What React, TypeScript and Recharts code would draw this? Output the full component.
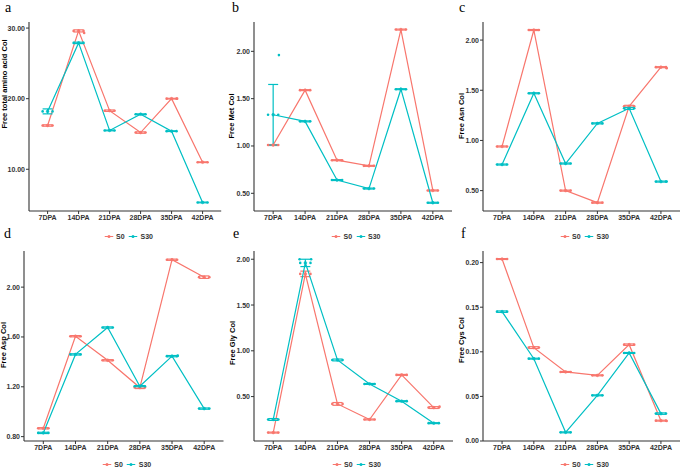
import React from 'react';
import { ComposedChart, Line, XAxis, YAxis, ErrorBar, Scatter } from 'recharts';

// ---------- data ----------
const categories = ['7DPA', '14DPA', '21DPA', '28DPA', '35DPA', '42DPA'];
const seriesNames = ['S0', 'S30'];

// a: Free total amino acid
const totalS0 = [16.2, 29.6, 18.3, 15.2, 20.0, 11.0];
const totalS30 = [18.2, 27.9, 15.5, 17.8, 15.4, 5.3];
const totalS0Err = [0.1, 0.15, 0.1, 0.1, 0.05, 0.05];
const totalS30Err = [0.35, 0.1, 0.05, 0.05, 0.05, 0.05];
const totalExtra = [[0, 1, 29.3], [0, 4, 20.0]];
const totalTicks = [10, 20, 30];

// b: Free Met
const metS0 = [1.01, 1.59, 0.85, 0.79, 2.23, 0.53];
const metS30 = [1.33, 1.26, 0.64, 0.55, 1.6, 0.4];
const metS0Err = [0.005, 0.005, 0.005, 0.005, 0.005, 0.005];
const metS30Err = [0.32, 0.005, 0.005, 0.005, 0.005, 0.005];
const metExtra = [[1, 0, 1.96]];
const metTicks = [0.5, 1.0, 1.5, 2.0];

// c: Free Asn
const asnS0 = [0.94, 2.1, 0.5, 0.38, 1.34, 1.73];
const asnS30 = [0.76, 1.47, 0.77, 1.17, 1.32, 0.59];
const asnS0Err = [0.005, 0.005, 0.005, 0.005, 0.01, 0.005];
const asnS30Err = [0.005, 0.005, 0.005, 0.005, 0.01, 0.005];
const asnExtra = [[0, 5, 1.72], [1, 5, 0.59]];
const asnTicks = [0.5, 1.0, 1.5, 2.0];

// d: Free Asp
const aspS0 = [0.867, 1.606, 1.413, 1.194, 2.22, 2.08];
const aspS30 = [0.83, 1.46, 1.676, 1.205, 1.446, 1.025];
const aspS0Err = [0.005, 0.005, 0.005, 0.008, 0.005, 0.01];
const aspS30Err = [0.005, 0.005, 0.005, 0.005, 0.005, 0.005];
const aspExtra = [[1, 4, 1.45]];
const aspTicks = [0.8, 1.2, 1.6, 2.0];

// e: Free Gly
const glyS0 = [0.107, 1.84, 0.42, 0.25, 0.737, 0.38];
const glyS30 = [0.25, 1.96, 0.9, 0.638, 0.45, 0.21];
const glyS0Err = [0.005, 0.03, 0.015, 0.005, 0.005, 0.01];
const glyS30Err = [0.01, 0.04, 0.01, 0.005, 0.005, 0.005];
const glyExtra = [[1, 1, 2.0], [1, 1, 2.0], [0, 5, 0.39]];
const glyTicks = [0.5, 1.0, 1.5, 2.0];

// f: Free Cys
const cysS0 = [0.204, 0.1047, 0.0774, 0.0736, 0.108, 0.0228];
const cysS30 = [0.145, 0.0923, 0.0097, 0.0512, 0.0987, 0.0307];
const cysS0Err = [0.0005, 0.001, 0.0005, 0.0005, 0.0008, 0.0005];
const cysS30Err = [0.0008, 0.0005, 0.0005, 0.0005, 0.0005, 0.0008];
const cysExtra = [[0, 5, 0.0225]];
const cysTicks = [0.0, 0.05, 0.1, 0.15, 0.2];

// ---------- styles / layout ----------
const RED = '#F8766D';
const CYAN = '#00BFC4';
const INK = '#333333';
const FONT = '"Liberation Sans", Arial, Helvetica, sans-serif';
const SERIF = '"Liberation Serif", "Times New Roman", serif';
const JITTER = [-0.16, 0.16];
const EXTRA_OFFSETS = [0.18, -0.18];

const panels = [
  { label: 'a', title: 'Free total amino acid Col', s0: totalS0, s30: totalS30, s0e: totalS0Err, s30e: totalS30Err, extra: totalExtra, ticks: totalTicks, domain: [4.09, 30.86], rect: [29.4, 22, 221.6, 211], titleX: 5, titleY: 84, labelX: 5, labelTop: 1 },
  { label: 'b', title: 'Free Met Col', s0: metS0, s30: metS30, s0e: metS0Err, s30e: metS30Err, extra: metExtra, ticks: metTicks, domain: [0.313, 2.31], rect: [254, 22, 452, 211], titleX: 232, titleY: 116, labelX: 232, labelTop: 1 },
  { label: 'c', title: 'Free Asn Col', s0: asnS0, s30: asnS30, s0e: asnS0Err, s30e: asnS30Err, extra: asnExtra, ticks: asnTicks, domain: [0.297, 2.18], rect: [483, 22, 680, 211], titleX: 461.5, titleY: 116, labelX: 459, labelTop: 1 },
  { label: 'd', title: 'Free Asp Col', s0: aspS0, s30: aspS30, s0e: aspS0Err, s30e: aspS30Err, extra: aspExtra, ticks: aspTicks, domain: [0.765, 2.29], rect: [24, 250.7, 223.5, 440.7], titleX: 3.5, titleY: 345, labelX: 4, labelTop: 227 },
  { label: 'e', title: 'Free Gly Col', s0: glyS0, s30: glyS30, s0e: glyS0Err, s30e: glyS30Err, extra: glyExtra, ticks: glyTicks, domain: [0.015, 2.09], rect: [254, 250.7, 453, 440.7], titleX: 232.5, titleY: 343, labelX: 233, labelTop: 227 },
  { label: 'f', title: 'Free Cys Col', s0: cysS0, s30: cysS30, s0e: cysS0Err, s30e: cysS30Err, extra: cysExtra, ticks: cysTicks, domain: [0, 0.213], rect: [483, 250.7, 680, 440.7], titleX: 462, titleY: 340, labelX: 461, labelTop: 227 },
];

const dotShape = (color: string) => (props: any) => (
  <circle cx={props.cx} cy={props.cy} r={1.3} fill={color} />
);

function Panel({ p }: { p: any }) {
  const YW = 30, MT = 4, MR = 4, XH = 20;
  const [x0, y0, x1, y1] = p.rect;
  const w = x1 - x0 + YW + MR;
  const h = y1 - y0 + MT + XH;
  const data = categories.map((c, i) => ({
    x: i + 1, name: c, s0: p.s0[i], s30: p.s30[i], s0e: p.s0e[i], s30e: p.s30e[i],
  }));
  const dots0: any[] = [];
  const dots1: any[] = [];
  categories.forEach((c, i) => {
    JITTER.forEach((o) => {
      dots0.push({ x: i + 1 + o, y: p.s0[i] });
      dots1.push({ x: i + 1 + o, y: p.s30[i] });
    });
  });
  const counts: Record<string, number> = {};
  p.extra.forEach(([s, i, v]: number[]) => {
    const k = s + '-' + i;
    const n = counts[k] || 0;
    counts[k] = n + 1;
    (s === 0 ? dots0 : dots1).push({ x: i + 1 + EXTRA_OFFSETS[n % 2], y: v });
  });
  const tickStyle = { fontSize: 7, fontWeight: 700, fill: INK, fontFamily: FONT };
  return (
    <div style={{ position: 'absolute', left: x0 - YW, top: y0 - MT }}>
      <ComposedChart width={w} height={h} data={data} margin={{ top: MT, right: MR, bottom: 0, left: 0 }}>
        <XAxis
          dataKey="x" type="number" domain={[0.4, 6.6]} ticks={[1, 2, 3, 4, 5, 6]}
          tickFormatter={(v: number) => categories[v - 1]} height={XH} allowDataOverflow
          interval={0} tickSize={3} tickMargin={1}
          axisLine={{ stroke: INK, strokeWidth: 1.1 }} tickLine={{ stroke: INK }} tick={tickStyle}
        />
        <YAxis
          type="number" domain={p.domain} ticks={p.ticks} allowDataOverflow width={YW}
          tickFormatter={(v: number) => v.toFixed(2)} tickSize={3} tickMargin={1}
          axisLine={{ stroke: INK, strokeWidth: 1.1 }} tickLine={{ stroke: INK }} tick={tickStyle}
        />
        <Scatter data={dots0} dataKey="y" fill={RED} shape={dotShape(RED)} isAnimationActive={false} />
        <Line type="linear" dataKey="s0" stroke={RED} strokeWidth={1.2} dot={{ r: 1.4, fill: RED, stroke: RED, strokeWidth: 0.5 }} activeDot={false} isAnimationActive={false}>
          <ErrorBar dataKey="s0e" width={5} stroke={RED} strokeWidth={1.2} direction="y" />
        </Line>
        <Scatter data={dots1} dataKey="y" fill={CYAN} shape={dotShape(CYAN)} isAnimationActive={false} />
        <Line type="linear" dataKey="s30" stroke={CYAN} strokeWidth={1.2} dot={{ r: 1.4, fill: CYAN, stroke: CYAN, strokeWidth: 0.5 }} activeDot={false} isAnimationActive={false}>
          <ErrorBar dataKey="s30e" width={5} stroke={CYAN} strokeWidth={1.2} direction="y" />
        </Line>
      </ComposedChart>
    </div>
  );
}

function Key({ color }: { color: string }) {
  return (
    <svg width={9} height={6} style={{ display: 'block' }}>
      <line x1={0} y1={3} x2={9} y2={3} stroke={color} strokeWidth={1.2} />
      <circle cx={4.5} cy={3} r={1.5} fill={color} />
    </svg>
  );
}

function Legend({ cx, cy }: { cx: number; cy: number }) {
  return (
    <div style={{
      position: 'absolute', left: cx, top: cy, transform: 'translate(-50%, -50%)',
      display: 'flex', alignItems: 'center', fontFamily: FONT, fontSize: 7, fontWeight: 700,
      color: INK, whiteSpace: 'nowrap', lineHeight: 1,
    }}>
      <Key color={RED} />
      <span style={{ marginLeft: 3, marginRight: 4 }}>{seriesNames[0]}</span>
      <Key color={CYAN} />
      <span style={{ marginLeft: 3 }}>{seriesNames[1]}</span>
    </div>
  );
}

export default function App() {
  return (
    <div style={{ position: 'absolute', left: 0, top: 0, width: 682, height: 468, background: '#fff', overflow: 'hidden' }}>
      {panels.map((p, idx) => {
        const [x0, y0, x1, y1] = p.rect;
        const legendY = idx < 3 ? 236 : 464;
        return (
          <React.Fragment key={p.label}>
            <Panel p={p} />
            <div style={{ position: 'absolute', left: p.labelX, top: p.labelTop, fontFamily: SERIF, fontSize: 14, lineHeight: 1, color: '#000' }}>
              {p.label}
            </div>
            <div style={{
              position: 'absolute', left: p.titleX, top: p.titleY,
              transform: 'translate(-50%, -50%) rotate(-90deg)', fontFamily: FONT, fontSize: 7.5,
              fontWeight: 700, color: '#000', whiteSpace: 'nowrap', lineHeight: 1,
            }}>
              {p.title}
            </div>
            <Legend cx={(x0 + x1) / 2 + 3} cy={legendY} />
          </React.Fragment>
        );
      })}
    </div>
  );
}
